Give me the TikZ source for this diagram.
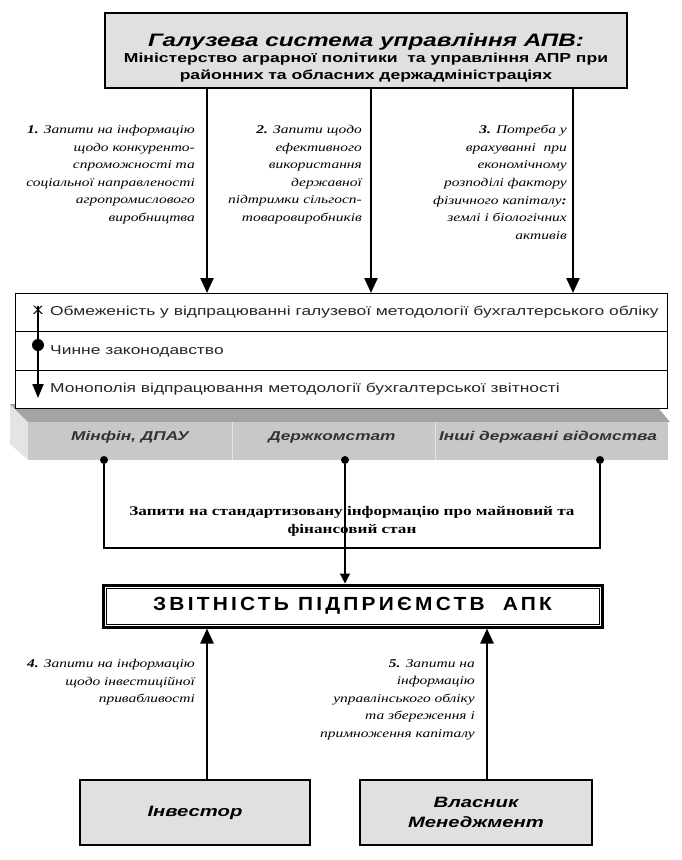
\documentclass[tikz,border=0pt]{standalone}
\usepackage{fontspec}
\setmainfont{Liberation Serif}[FakeStretch=1.3]
\setsansfont{Liberation Sans}[FakeStretch=1.35]
\newfontfamily\apkfont{Liberation Sans}[FakeStretch=1.1]
\usetikzlibrary{arrows.meta,positioning,calc}
\definecolor{PanelGray}{HTML}{E0E0E0}
\definecolor{SlabTop}{HTML}{A4A4A4}
\definecolor{SlabFront}{HTML}{C8C8C8}
\definecolor{SlabSide}{HTML}{E4E4E4}

\begin{document}
\begin{tikzpicture}[x=1pt, y=-1pt,
  panel/.style={draw, fill=PanelGray, line width=1.2pt, inner sep=0pt, align=center},
  row/.style={draw, fill=white, line width=0.8pt, minimum width=652pt, minimum height=38.3pt, anchor=north west, inner sep=0pt},
  rowtext/.style={anchor=west, inner sep=0pt, text=black!85, font=\sffamily\fontsize{12.9}{15}\selectfont},
  note/.style={align=right, anchor=north east, inner sep=0pt, font=\rmfamily\itshape\fontsize{11.9}{17.6}\selectfont},
  slabtext/.style={font=\sffamily\bfseries\itshape\fontsize{12.8}{15}\selectfont, text=black!80},
  arrow/.style={-{Triangle[length=15pt,width=13pt]}, line width=2.4pt},
  link/.style={line width=1.2pt},
  dot/.style={circle, fill, inner sep=0pt, minimum size=8pt}
]
\useasboundingbox (0,0) rectangle (681,860);

% branch management
\node[panel, minimum width=522pt, minimum height=75pt, font=\sffamily\bfseries] (apv) at (366,50.5)
  {\itshape\fontsize{18}{20}\selectfont\rule{0pt}{28pt}Галузева система управління АПВ:\\[2pt]
   \upshape\fontsize{13}{19}\selectfont Міністерство аграрної політики\ \ та управління АПР при\\[4pt]
   \fontsize{13}{19}\selectfont районних та обласних держадміністраціях};

\coordinate (c1) at (207,0);
\coordinate (c2) at (371,0);
\coordinate (c3) at (573,0);

% slab under the list
\fill[SlabSide] (10,404) -- (28,422) -- (28,460) -- (10,444) -- cycle;
\fill[SlabTop] (10,404) -- (655,404) -- (670,422) -- (28,422) -- cycle;
\fill[SlabFront] (28,422) rectangle (668,460);
\draw[white!90!black, line width=0.8pt] (232,422) -- (232,460) (435,422) -- (435,460);

% constraints
\node[row] (r1) at (15,293) {};
\node[row] (r2) at (15,331.3) {};
\node[row] (r3) at (15,369.6) {};
\node[rowtext, right=35pt of r1.west] (t1) {Обмеженість у відпрацюванні галузевої методології бухгалтерського обліку};
\node[rowtext, right=35pt of r2.west] (t2) {Чинне законодавство};
\node[rowtext, right=35pt of r3.west] (t3) {Монополія відпрацювання методології бухгалтерської звітності};

\node[slabtext] (minfin) at (130,437) {Мінфін, ДПАУ};
\node[slabtext] (stat) at (332,437) {Держкомстат};
\node[slabtext] (other) at (548,437) {Інші державні відомства};

% bullet arrow
\node[inner sep=0pt, font=\sffamily\fontsize{12}{12}\selectfont] (bx) at (38,310) {X};
\node[dot, minimum size=12pt] (bd) at (38,345) {};
\coordinate (bz) at (38,398);
\draw[-{Triangle[length=14pt,width=11pt]}, line width=2pt] (bx.north) -- (bz);

\foreach \c in {c1,c2,c3}
  \draw[arrow] (apv.south -| \c) -- (r1.north -| \c);

% notes on the top arrows
\node[note] (n1) at (195,125) {\textbf{1.} Запити на інформацію\\щодо конкуренто-\\спроможності та\\соціальної направленості\\агропромислового\\виробництва};
\node[note] (n2) at (362,125) {\textbf{2.} Запити щодо\\ефективного\\використання\\державної\\підтримки сільгосп-\\товаровиробників};
\node[note] (n3) at (567,125) {\textbf{3.} Потреба у\\врахуванні\ \ при\\економічному\\розподілі фактору\\фізичного капіталу\textbf{:}\\землі і біологічних\\активів};

% state bodies
\node[dot] (d1) at (104,460) {};
\node[dot] (d2) at (345,460) {};
\node[dot] (d3) at (600,460) {};
\coordinate (bus) at (0,548);
\draw[link] (d1) -- (d1 |- bus) -- (d3 |- bus) -- (d3);

\node[align=center, font=\rmfamily\bfseries\fontsize{13.2}{18}\selectfont] (std) at (352,521)
  {Запити на стандартизовану інформацію про майновий та\\фінансовий стан};

% reporting
\node[draw, line width=3pt, minimum width=499pt, minimum height=42pt, inner sep=0pt,
  font=\apkfont\bfseries\fontsize{19}{20}\selectfont\addfontfeature{LetterSpace=17}] (apk) at (352.5,606)
  {ЗВІТНІСТЬ ПІДПРИЄМСТВ\ \ АПК};
\draw[line width=0.8pt] ([shift={(4.5pt,-4.5pt)}]apk.north west) rectangle ([shift={(-4.5pt,4.5pt)}]apk.south east);

\draw[-{Triangle[length=10pt,width=10pt]}, line width=1.2pt] (d2) -- (apk.north -| d2);

% users
\node[panel, minimum width=230pt, minimum height=65pt, font=\sffamily\bfseries\itshape\fontsize{15}{20}\selectfont] (inv) at (195,812.5) {Інвестор};
\node[panel, minimum width=232pt, minimum height=65pt, font=\sffamily\bfseries\itshape\fontsize{15}{20}\selectfont] (own) at (476,812.5) {Власник\\Менеджмент};

\coordinate (c4) at (207,0);
\coordinate (c5) at (487,0);
\draw[arrow] (inv.north -| c4) -- (apk.south -| c4);
\draw[arrow] (own.north -| c5) -- (apk.south -| c5);

\node[note] (n4) at (195,659) {\textbf{4.} Запити на інформацію\\щодо інвестиційної\\привабливості};
\node[note] (n5) at (475,659) {\textbf{5.} Запити на\\інформацію\\управлінського обліку\\та збереження і\\примноження капіталу};
\end{tikzpicture}
\end{document}
